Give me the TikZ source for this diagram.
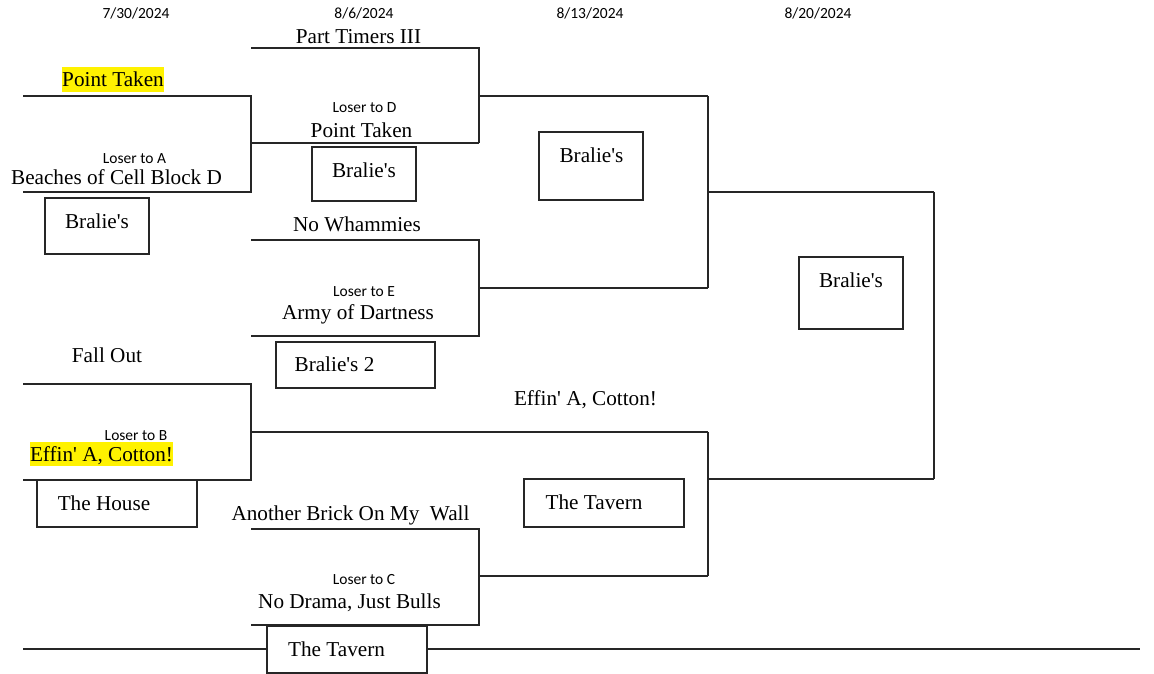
\documentclass[tikz,border=0pt]{standalone}
\usepackage{fontspec}
\newfontfamily\tnrfont{Liberation Serif}
\newfontfamily\calfont{Carlito}
\begin{document}
\begin{tikzpicture}[x=1pt,y=-1pt,
  brk/.style={line width=1.1pt,draw=black!85},
  boxr/.style={draw=black!85,line width=1.1pt,inner sep=0pt,rectangle},
  team/.style={inner sep=0pt,anchor=base,font=\tnrfont\fontsize{21.2}{25}\selectfont},
  small/.style={inner sep=0pt,anchor=base,font=\calfont\fontsize{15.5}{18}\selectfont},
  hl/.style={team,fill=yellow,inner xsep=0.5pt},
]
\useasboundingbox (0,0) rectangle (1154,674);
% dates
\node[small] (d1) at (136,19) {7/30/2024};
\node[small] (d2) at (364,19) {8/6/2024};
\node[small] (d3) at (590,19) {8/13/2024};
\node[small] (d4) at (818,19) {8/20/2024};
% bracket coordinates
\coordinate (a1) at (23,96);  \coordinate (a2) at (251,96);
\coordinate (a3) at (251,192); \coordinate (a4) at (23,192);
\coordinate (ao) at (251,143); \coordinate (ae) at (479,143);
\coordinate (b1) at (23,384);  \coordinate (b2) at (251,384);
\coordinate (b3) at (251,480); \coordinate (b4) at (23,480);
\coordinate (bo) at (251,432); \coordinate (be) at (708,432);
\coordinate (d1a) at (251,48); \coordinate (d1b) at (479,48);
\coordinate (do) at (479,96);  \coordinate (de) at (708,96);
\coordinate (e1) at (251,240); \coordinate (e2) at (479,240);
\coordinate (e3) at (479,336); \coordinate (e4) at (251,336);
\coordinate (eo) at (479,288); \coordinate (ee) at (708,288);
\coordinate (c1) at (251,529); \coordinate (c2) at (479,529);
\coordinate (c3) at (479,625); \coordinate (c4) at (251,625);
\coordinate (co) at (479,576); \coordinate (ce) at (708,576);
\coordinate (so) at (708,192); \coordinate (se) at (934,192);
\coordinate (to) at (708,479); \coordinate (te) at (934,479);
\coordinate (l1) at (23,649); \coordinate (l2) at (267,649);
\coordinate (l3) at (427,649); \coordinate (l4) at (1140,649);
% bracket lines
\draw[brk] (a1) -- (a2) -- (a3) -- (a4);
\draw[brk] (ao) -- (ae);
\draw[brk] (b1) -- (b2) -- (b3) -- (b4);
\draw[brk] (bo) -- (be);
\draw[brk] (d1a) -- (d1b) -- (ae);
\draw[brk] (do) -- (de);
\draw[brk] (e1) -- (e2) -- (e3) -- (e4);
\draw[brk] (eo) -- (ee);
\draw[brk] (c1) -- (c2) -- (c3) -- (c4);
\draw[brk] (co) -- (ce);
\draw[brk] (de) -- (ee);
\draw[brk] (so) -- (se);
\draw[brk] (be) -- (ce);
\draw[brk] (to) -- (te);
\draw[brk] (se) -- (te);
\draw[brk] (l1) -- (l2);
\draw[brk] (l3) -- (l4);
% boxes
\node[boxr,minimum width=104pt,minimum height=56pt] (x1) at (97,226) {};
\node[boxr,minimum width=104pt,minimum height=54pt] (x2) at (364,174) {};
\node[boxr,minimum width=159pt,minimum height=46pt] (x3) at (355.5,365) {};
\node[boxr,minimum width=160pt,minimum height=47pt] (x4) at (117,503.5) {};
\node[boxr,minimum width=160pt,minimum height=47pt] (x5) at (347,649.5) {};
\node[boxr,minimum width=104pt,minimum height=68pt] (x6) at (591,166) {};
\node[boxr,minimum width=160pt,minimum height=48pt] (x7) at (604,503) {};
\node[boxr,minimum width=104pt,minimum height=72pt] (x8) at (851,293) {};
% team texts
\node[hl,text height=20pt,text depth=5pt] (t1) at (113,87) {Point Taken};
\node[small] (t2) at (134.5,164) {Loser to A};
\node[team] (t3) at (116.5,184) {Beaches of Cell Block D};
\node[team] (t4) at (97,228) {Bralie's};
\node[team] (t5) at (358.5,44) {Part Timers III};
\node[small] (t6) at (364.5,113) {Loser to D};
\node[team] (t7) at (361.5,138) {Point Taken};
\node[team] (t8) at (364,177) {Bralie's};
\node[team] (t9) at (357,231) {No Whammies};
\node[small] (t10) at (364,296) {Loser to E};
\node[team] (t11) at (358,319) {Army of Dartness};
\node[team] (t12) at (334.5,371) {Bralie's 2};
\node[team] (t13) at (107,362) {Fall Out};
\node[small] (t14) at (136,440) {Loser to B};
\node[hl,text height=19pt,text depth=5pt] (t15) at (101.5,461) {Effin' A, Cotton!};
\node[team] (t16) at (104,510) {The House};
\node[team] (t17) at (350.5,520) {Another Brick On My\ \ Wall};
\node[small] (t18) at (364,584) {Loser to C};
\node[team] (t19) at (349.5,608) {No Drama, Just Bulls};
\node[team] (t20) at (336.5,656) {The Tavern};
\node[team] (t21) at (591.5,162) {Bralie's};
\node[team] (t22) at (585.5,405) {Effin' A, Cotton!};
\node[team] (t23) at (594,509) {The Tavern};
\node[team] (t24) at (851,287) {Bralie's};
\end{tikzpicture}
\end{document}
